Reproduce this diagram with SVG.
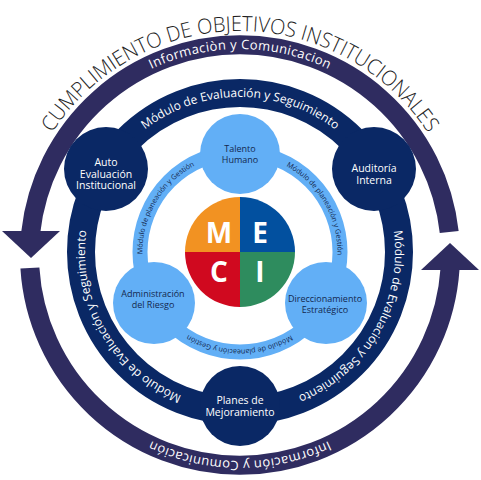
<svg xmlns="http://www.w3.org/2000/svg" width="481" height="480" viewBox="0 0 481 480">
<style>
text{font-family:"Open Sans","Liberation Sans",sans-serif}
.title{font-size:21px;font-weight:300;fill:#1e1e1e}
.info{font-size:13px;fill:#ffffff;letter-spacing:0.4px}
.eval{font-size:12px;fill:#ffffff}
.plan{font-size:7.2px;fill:#13284f}
.nav{font-size:10.5px;fill:#ffffff;text-anchor:middle}
.lt{font-size:9px;fill:#13284f;text-anchor:middle}
.meci{font-size:28px;font-weight:700;fill:#ffffff;text-anchor:middle}
.outer{fill:none;stroke:#2f2c60;stroke-width:19}
.arrow{fill:#2f2c60}
.navyc{fill:#0a2865}
.lightc{fill:#62aff6}
</style>
<defs>
<path id="pTitle" d="M240,479 A224,224 0 1 1 240,31 A224,224 0 1 1 240,479"/>
<path id="pOuter" d="M34,255 A206,206 0 1 1 446,255 A206,206 0 1 1 34,255"/>
<path id="pNavy" d="M240,407 A155,155 0 1 1 240,97 A155,155 0 1 1 240,407"/>
<path id="pLight" d="M240,154.5 A97.5,97.5 0 1 1 240,349.5 A97.5,97.5 0 1 1 240,154.5"/>
</defs>
<rect width="481" height="480" fill="#ffffff"/>

<g id="title">
<text class="title"><textPath href="#pTitle" startOffset="703.7" text-anchor="middle" textLength="446" lengthAdjust="spacingAndGlyphs">CUMPLIMIENTO DE OBJETIVOS INSTITUCIONALES</textPath></text>
</g>

<g id="connectors">
<path class="outer" d="M449.2,232 A210.5,210.5 0 0 0 30.8,232"/>
<polygon class="arrow" points="2,231 60,231 31,258"/>
<path class="outer" d="M29.9,268 A210.5,210.5 0 0 0 450,269"/>
<polygon class="arrow" points="421,270 479,270 450,243"/>
</g>

<g id="outer-labels">
<text class="info"><textPath href="#pOuter" startOffset="323.6" text-anchor="middle">Informaciòn y Comunicacion</textPath></text>
<text class="info"><textPath href="#pOuter" startOffset="970.7" text-anchor="middle">Información y Comunicación</textPath></text>
</g>

<g id="evaluacion-ring">
<circle cx="240" cy="252" r="159" fill="none" stroke="#0a2865" stroke-width="28"/>
<text class="eval"><textPath href="#pNavy" startOffset="162.3" text-anchor="middle">Módulo de Evaluación y Seguimiento</textPath></text>
<text class="eval"><textPath href="#pNavy" startOffset="487" text-anchor="middle">Módulo de Evaluación y Seguimiento</textPath></text>
<text class="eval"><textPath href="#pNavy" startOffset="811.6" text-anchor="middle">Módulo de Evaluación y Seguimiento</textPath></text>
</g>

<g id="auto-evaluacion">
<circle class="navyc" cx="106" cy="169" r="42"/>
<text class="nav" x="106" y="166">Auto</text>
<text class="nav" x="106" y="177.5">Evaluación</text>
<text class="nav" x="106" y="189">Institucional</text>
</g>
<g id="auditoria-interna">
<circle class="navyc" cx="374" cy="169" r="42"/>
<text class="nav" x="374" y="172">Auditoría</text>
<text class="nav" x="374" y="183.5">Interna</text>
</g>
<g id="planes-mejoramiento">
<circle class="navyc" cx="240" cy="406" r="40"/>
<text class="nav" x="240" y="404">Planes de</text>
<text class="nav" x="240" y="415.5">Mejoramiento</text>
</g>

<g id="planeacion-ring">
<circle cx="240" cy="252" r="100" fill="none" stroke="#62aff6" stroke-width="15"/>
<text class="plan"><textPath href="#pLight" startOffset="102.1" text-anchor="middle">Módulo de planeación y Gestión</textPath></text>
<text class="plan"><textPath href="#pLight" startOffset="306.3" text-anchor="middle">Módulo de planeación y Gestión</textPath></text>
<text class="plan"><textPath href="#pLight" startOffset="510.5" text-anchor="middle">Módulo de planeación y Gestión</textPath></text>
</g>

<g id="talento-humano">
<circle class="lightc" cx="240" cy="154" r="40"/>
<text class="lt" x="240" y="151.5">Talento</text>
<text class="lt" x="240" y="162.5">Humano</text>
</g>
<g id="administracion-riesgo">
<circle class="lightc" cx="154" cy="303" r="41"/>
<text class="lt" x="153" y="297">Administración</text>
<text class="lt" x="153" y="308">del Riesgo</text>
</g>
<g id="direccionamiento">
<circle class="lightc" cx="326" cy="303" r="41"/>
<text class="lt" x="325" y="302">Direccionamiento</text>
<text class="lt" x="325" y="313">Estratégico</text>
</g>

<g id="meci">
<path d="M240,252 L185,252 A55,55 0 0 1 240,197 Z" fill="#f29222"/>
<path d="M240,252 L240,197 A55,55 0 0 1 295,252 Z" fill="#02509f"/>
<path d="M240,252 L295,252 A55,55 0 0 1 240,307 Z" fill="#2e8c5e"/>
<path d="M240,252 L240,307 A55,55 0 0 1 185,252 Z" fill="#d0091f"/>
<text class="meci" x="219" y="243">M</text>
<text class="meci" x="260" y="243">E</text>
<text class="meci" x="219" y="282">C</text>
<text class="meci" x="260" y="282">I</text>
</g>
</svg>
